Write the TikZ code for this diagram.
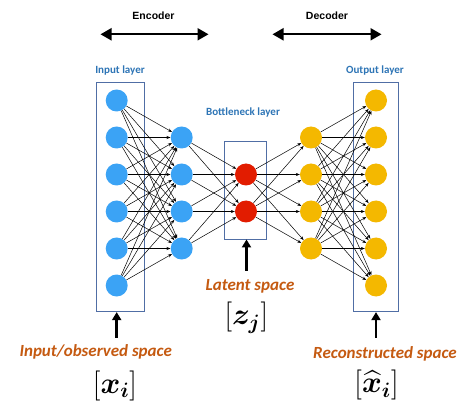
\documentclass[tikz,border=0pt]{standalone}
\usepackage{amsmath,bm}
\usepackage{fontspec}
\setmainfont{Carlito}
\newfontfamily\arialf{Liberation Sans}
\usetikzlibrary{arrows.meta}
\definecolor{nblue}{RGB}{59,163,245}
\definecolor{nyellow}{RGB}{244,184,0}
\definecolor{nred}{RGB}{226,28,0}
\definecolor{lblue}{RGB}{46,117,182}
\definecolor{boxc}{RGB}{80,110,165}
\definecolor{orng}{RGB}{197,90,17}
\tikzset{
  neuron/.style={circle,minimum size=22pt,inner sep=0pt,draw=none},
  bluen/.style={neuron,fill=nblue},
  yelln/.style={neuron,fill=nyellow},
  redn/.style={neuron,fill=nred},
  edge/.style={-{Stealth[length=4pt,width=3pt]},line width=0.5pt,black},
  layerbox/.style={draw=boxc,line width=0.8pt,inner sep=0pt},
  layerlbl/.style={font=\bfseries\fontsize{11}{13}\selectfont,text=lblue},
  spacelbl/.style={font=\bfseries\itshape\fontsize{17}{20}\selectfont,text=orng,inner sep=0.5pt},
  bigarrow/.style={{Triangle[length=11pt,width=12pt]}-{Triangle[length=11pt,width=12pt]},line width=2.2pt},
  uparrow/.style={-{Triangle[length=8pt,width=9pt]},line width=2.6pt},
  mathlbl/.style={font=\fontsize{20}{24}\selectfont,inner sep=0pt},
}
\begin{document}
\begin{tikzpicture}[x=1pt,y=-1pt]
\useasboundingbox (0,0) rectangle (469,409);
\fill[white] (0,0) rectangle (469,409);
% boxes
\node[layerbox,minimum width=47.5pt,minimum height=229pt] (inbox) at (120.5,197.2) {};
\node[layerbox,minimum width=45pt,minimum height=229pt] (outbox) at (375.8,197.2) {};
\node[layerbox,minimum width=42.4pt,minimum height=97.3pt] (bbox) at (245.5,190.4) {};
% neurons
\foreach \i in {1,...,6} {
  \node[bluen] (i\i) at (116.7,{100.5+37*(\i-1)}) {};
  \node[yelln] (o\i) at (376,{100.5+37*(\i-1)}) {};
}
\foreach \j in {1,...,4} {
  \node[bluen] (h\j) at (181.7,{137.5+37*(\j-1)}) {};
  \node[yelln] (g\j) at (311,{137.5+37*(\j-1)}) {};
}
\node[redn] (z1) at (246,174.5) {};
\node[redn] (z2) at (246,211.5) {};
% edges
\foreach \i in {1,...,6} \foreach \j in {1,...,4} {
  \draw[edge] (i\i) -- (h\j);
  \draw[edge] (g\j) -- (o\i);
}
\foreach \j in {1,...,4} \foreach \k in {1,2} {
  \draw[edge] (h\j) -- (z\k);
  \draw[edge] (z\k) -- (g\j);
}
% top labels
\node[font=\arialf\bfseries\fontsize{10.5}{12}\selectfont] (enc) at (153.5,16) {Encoder};
\node[font=\arialf\bfseries\fontsize{10.5}{12}\selectfont] (dec) at (327,16) {Decoder};
\coordinate (encL) at (100.5,34.3);
\coordinate (encR) at (208.5,34.3);
\coordinate (decL) at (272.5,34.3);
\coordinate (decR) at (381.5,34.3);
\draw[bigarrow] (encL) -- (encR);
\draw[bigarrow] (decL) -- (decR);
\node[layerlbl] (inl) at (120,71) {Input layer};
\node[layerlbl] (outl) at (375,71) {Output layer};
\node[layerlbl] (bnl) at (243,112.7) {Bottleneck layer};
% bottom arrows
\coordinate (ua1) at (116.7,337.5);
\coordinate (ua2) at (246.5,270.5);
\coordinate (ua3) at (376,337.5);
\draw[uparrow] (ua1) -- (ua1 |- inbox.south);
\draw[uparrow] (ua2) -- (ua2 |- bbox.south);
\draw[uparrow] (ua3) -- (ua3 |- outbox.south);
% space labels
\node[spacelbl] (lat) at (250,286) {Latent space};
\node[spacelbl] (ins) at (95.7,352.3) {Input/observed space};
\node[spacelbl] (recs) at (385,353.5) {Reconstructed space};
\node[mathlbl] (zj) at (246.3,318) {\scalebox{1.45}{$\left[\bm{z_j}\right]$}};
\node[mathlbl] (xi) at (115,385.5) {\scalebox{1.45}{$[\bm{x_i}]$}};
\node[mathlbl] (xh) at (376.5,385) {\scalebox{1.45}{$[\widehat{\bm{x}}_{\bm{i}}]$}};
\end{tikzpicture}
\end{document}
